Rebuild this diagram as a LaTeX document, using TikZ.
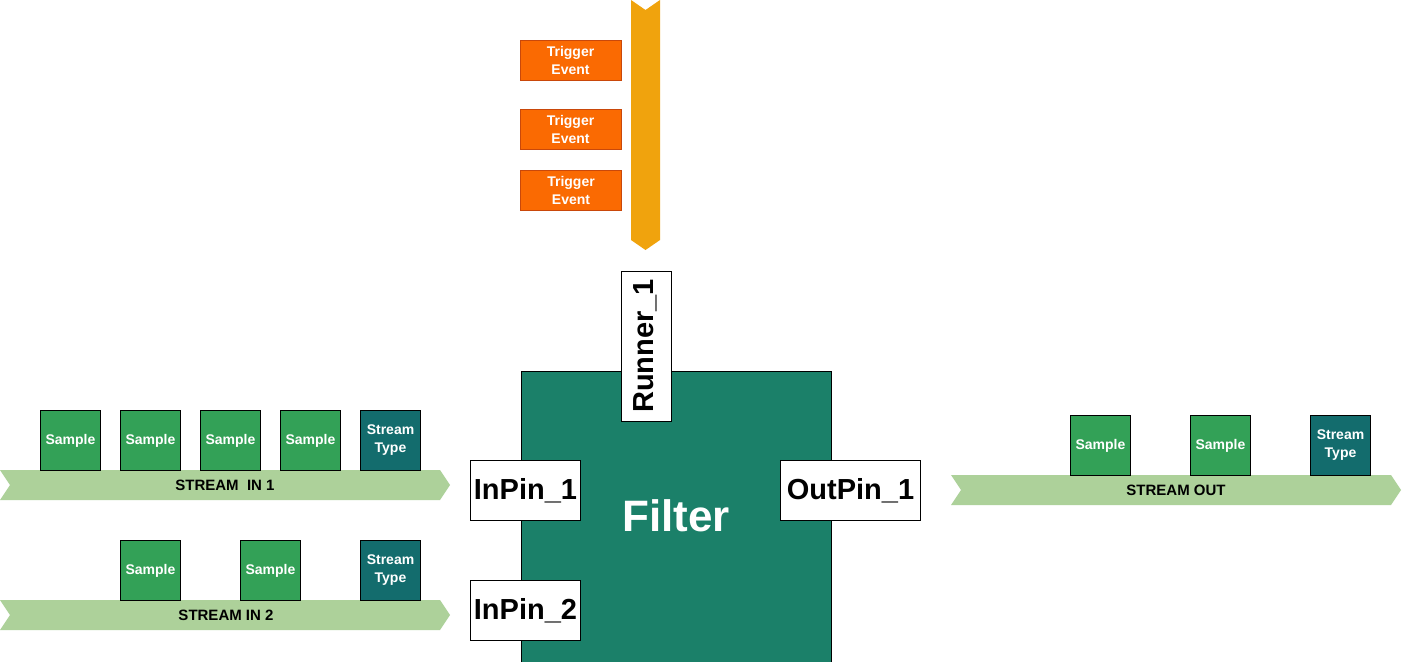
\documentclass[tikz,border=0pt]{standalone}
\usepackage{fontspec}
\setmainfont{Liberation Sans}
\definecolor{samplegreen}{HTML}{33A157}
\definecolor{typeteal}{HTML}{136C6D}
\definecolor{filtergreen}{HTML}{1B8069}
\definecolor{bandgreen}{HTML}{ADD19A}
\definecolor{trigorange}{HTML}{FA6A02}
\definecolor{trigborder}{HTML}{C9480A}
\definecolor{runnerorange}{HTML}{F0A30D}
\tikzset{
  sample/.style={draw=black, line width=0.8pt, fill=samplegreen, minimum width=60pt, minimum height=60pt, inner sep=0pt, text=white, font=\fontsize{14}{18}\selectfont\bfseries, align=center},
  stype/.style={sample, fill=typeteal},
  trig/.style={draw=trigborder, line width=0.8pt, fill=trigorange, minimum width=101pt, minimum height=40pt, inner sep=0pt, text=white, font=\fontsize{14}{18}\selectfont\bfseries, align=center},
  pin/.style={draw=black, line width=0.8pt, fill=white, inner sep=0pt, font=\fontsize{29}{32}\selectfont\bfseries},
  band/.style={fill=bandgreen},
  bandtext/.style={font=\fontsize{15}{17}\selectfont\bfseries, text=black},
}
\begin{document}
\begin{tikzpicture}[x=1pt,y=-1pt]
\useasboundingbox (0,0) rectangle (1402,661);
\fill[white] (0,0) rectangle (1402,661);

% runner arrow
\fill[runnerorange] (631,0) -- (645.5,10) -- (660,0) -- (660,240) -- (645.5,250) -- (631,240) -- cycle;

% trigger events
\node[trig] (t1) at (570.5,60.5) {Trigger\\Event};
\node[trig] (t2) at (570.5,129.5) {Trigger\\Event};
\node[trig] (t3) at (571,190.5) {Trigger\\Event};

% filter
\node[draw=black, line width=0.8pt, fill=filtergreen, minimum width=310pt, minimum height=300pt, inner sep=0pt, anchor=north west] (filter) at (520.5,370.5) {};
\node[text=white, font=\fontsize{44}{48}\selectfont\bfseries] (ftext) at (676,516) {Filter};

% pins
\node[pin, minimum width=50pt, minimum height=150pt, anchor=north west] (runner) at (620.5,270.5) {};
\node[rotate=90, font=\fontsize{29}{32}\selectfont\bfseries] (rtext) at (645.5,346) {Runner\_1};
\node[pin, minimum width=110pt, minimum height=60pt] (in1) at (525.5,490.5) {InPin\_1};
\node[pin, minimum width=110pt, minimum height=60pt] (in2) at (525.5,610.5) {InPin\_2};
\node[pin, minimum width=140pt, minimum height=60pt] (out1) at (850.5,490.5) {OutPin\_1};

% stream in 1
\fill[band] (0,470) -- (440,470) -- (450,485) -- (440,500) -- (0,500) -- (10,485) -- cycle;
\node[bandtext] (b1) at (225,485.5) {STREAM \ IN 1};
\node[sample] (s11) at (70.5,440.5) {Sample};
\node[sample] (s12) at (150.5,440.5) {Sample};
\node[sample] (s13) at (230.5,440.5) {Sample};
\node[sample] (s14) at (310.5,440.5) {Sample};
\node[stype] (st1) at (390.5,440.5) {Stream\\Type};

% stream in 2
\fill[band] (0,600) -- (440,600) -- (450,615) -- (440,630) -- (0,630) -- (10,615) -- cycle;
\node[bandtext] (b2) at (226,615.5) {STREAM IN 2};
\node[sample] (s21) at (150.5,570.5) {Sample};
\node[sample] (s22) at (270.5,570.5) {Sample};
\node[stype] (st2) at (390.5,570.5) {Stream\\Type};

% stream out
\fill[band] (951,475) -- (1391,475) -- (1401,490) -- (1391,505) -- (951,505) -- (961,490) -- cycle;
\node[bandtext] (b3) at (1176,490.5) {STREAM OUT};
\node[sample] (so1) at (1100.5,445.5) {Sample};
\node[sample] (so2) at (1220.5,445.5) {Sample};
\node[stype] (sto) at (1340.5,445.5) {Stream\\Type};
\end{tikzpicture}
\end{document}
